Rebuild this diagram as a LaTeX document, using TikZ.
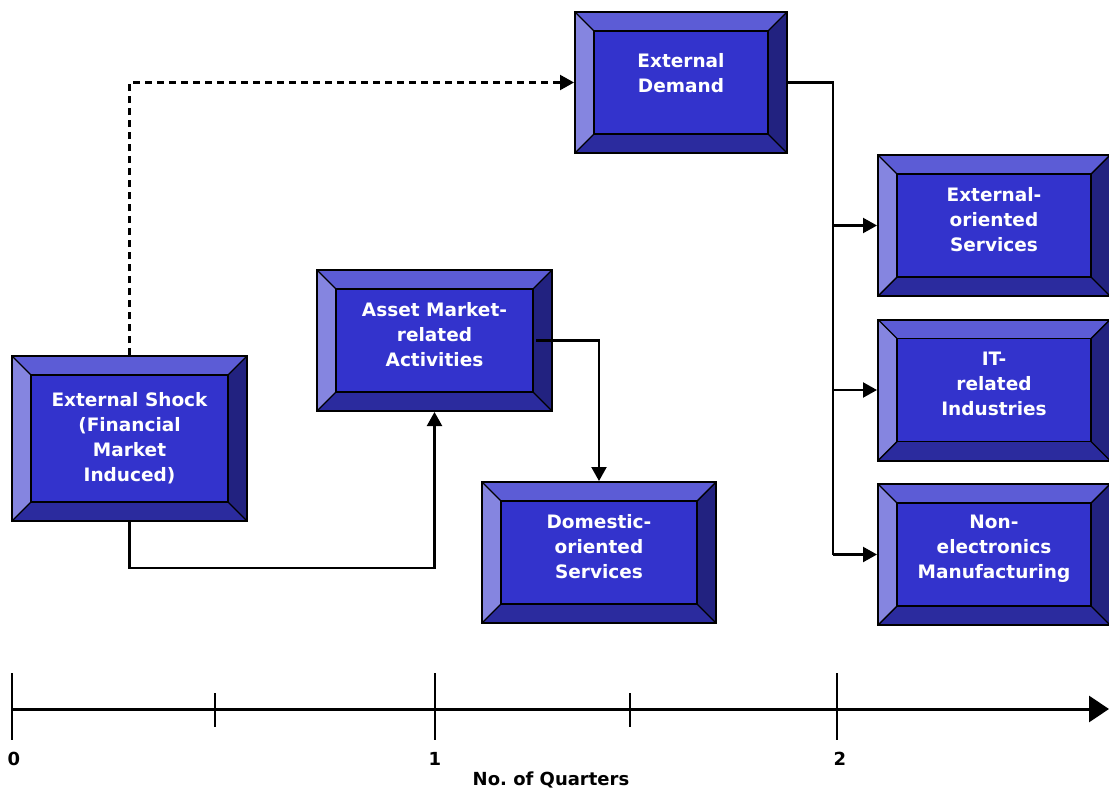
\documentclass[tikz,border=0pt]{standalone}
\usepackage{fontspec}
\setmainfont{DejaVu Sans}
\usetikzlibrary{arrows.meta}
\definecolor{facecol}{HTML}{3333CC}
\definecolor{bevtop}{HTML}{5C5CD6}
\definecolor{bevleft}{HTML}{8585E0}
\definecolor{bevright}{HTML}{222280}
\definecolor{bevbottom}{HTML}{2B2B9E}
\newcommand{\bv}{19pt}
\begin{document}
\begin{tikzpicture}[x=1pt,y=-1pt,
  bevelbox/.style={draw=black,line width=2pt,fill=facecol,inner sep=0pt,
    path picture={
      \fill[bevtop] (path picture bounding box.north west) -- (path picture bounding box.north east)
        -- ([xshift=-\bv,yshift=-\bv]path picture bounding box.north east)
        -- ([xshift=\bv,yshift=-\bv]path picture bounding box.north west) -- cycle;
      \fill[bevleft] (path picture bounding box.north west) -- (path picture bounding box.south west)
        -- ([xshift=\bv,yshift=\bv]path picture bounding box.south west)
        -- ([xshift=\bv,yshift=-\bv]path picture bounding box.north west) -- cycle;
      \fill[bevright] (path picture bounding box.north east) -- (path picture bounding box.south east)
        -- ([xshift=-\bv,yshift=\bv]path picture bounding box.south east)
        -- ([xshift=-\bv,yshift=-\bv]path picture bounding box.north east) -- cycle;
      \fill[bevbottom] (path picture bounding box.south west) -- (path picture bounding box.south east)
        -- ([xshift=-\bv,yshift=\bv]path picture bounding box.south east)
        -- ([xshift=\bv,yshift=\bv]path picture bounding box.south west) -- cycle;
      \draw[line width=1.5pt] ([xshift=\bv,yshift=-\bv]path picture bounding box.north west)
        rectangle ([xshift=-\bv,yshift=\bv]path picture bounding box.south east);
      \draw[line width=1.4pt] (path picture bounding box.north west) -- ++(\bv,-\bv)
        (path picture bounding box.north east) -- ++(-\bv,-\bv)
        (path picture bounding box.south west) -- ++(\bv,\bv)
        (path picture bounding box.south east) -- ++(-\bv,\bv);
    }},
  boxtext/.style={text=white,font=\fontsize{18.5}{25}\selectfont\bfseries,align=center,inner sep=0pt},
  conn/.style={line width=2.2pt,-{Triangle[length=14pt,width=15pt]}},
  axlabel/.style={anchor=base,font=\fontsize{18}{20}\selectfont\bfseries},
  ]
\useasboundingbox (0,0) rectangle (1109,792);

% boxes
\node[bevelbox,minimum width=235pt,minimum height=165pt] (shock) at (129.5,438.5) {};
\node[bevelbox,minimum width=212pt,minimum height=141pt] (demand) at (681,82.5) {};
\node[bevelbox,minimum width=235pt,minimum height=141pt] (asset) at (434.5,340.5) {};
\node[bevelbox,minimum width=234pt,minimum height=141pt] (domestic) at (599,552.5) {};
\node[bevelbox,minimum width=232pt,minimum height=141pt] (extsvc) at (994,225.5) {};
\node[bevelbox,minimum width=232pt,minimum height=141pt] (itind) at (994,390) {};
\node[bevelbox,minimum width=232pt,minimum height=141pt] (nonelec) at (994,554.5) {};

% box texts
\node[boxtext] (shocktxt) at (shock.center) {External Shock\\(Financial\\Market\\Induced)};
\node[boxtext] (demandtxt) at ([yshift=9pt]demand.center) {External\\Demand};
\node[boxtext] (assettxt) at ([yshift=6pt]asset.center) {Asset Market-\\related\\Activities};
\node[boxtext] (domestictxt) at ([yshift=6pt]domestic.center) {Domestic-\\oriented\\Services};
\node[boxtext] (extsvctxt) at ([yshift=6pt]extsvc.center) {External-\\oriented\\Services};
\node[boxtext] (itindtxt) at ([yshift=6pt]itind.center) {IT-\\related\\Industries};
\node[boxtext] (nonelectxt) at ([yshift=6pt]nonelec.center) {Non-\\electronics\\Manufacturing};

% connectors
\coordinate (lowbend) at (129.5,568);
\coordinate (split) at (833,82.5);
\draw[conn,dash pattern=on 7pt off 5pt] (shock.north) |- (demand.west);
\draw[conn] (shock.south) -- (lowbend) -| (asset.south);
\draw[conn] ([xshift=-17pt]asset.east) -| (domestic.north);
\draw[line width=2.2pt] (demand.east) -- (split) -- (split |- nonelec.west);
\draw[conn] (split |- extsvc.west) -- (extsvc.west);
\draw[conn] (split |- itind.west) -- (itind.west);
\draw[conn] (split |- nonelec.west) -- (nonelec.west);

% time axis
\coordinate (axstart) at (12,709);
\coordinate (axend) at (1109,709);
\draw[line width=3pt,-{Triangle[length=20pt,width=26pt]}] (axstart) -- (axend);
\foreach \X in {12,435,837}
\draw[line width=2pt] (\X,673) -- (\X,740);
\foreach \X in {215,630}
\draw[line width=2pt] (\X,693) -- (\X,727);
\foreach \X/\L in {14/0,435/1,840/2}
\node[axlabel] (q\L) at (\X,765) {\L};
\node[axlabel] (qlabel) at (551,785) {No.\ of Quarters};
\end{tikzpicture}
\end{document}
